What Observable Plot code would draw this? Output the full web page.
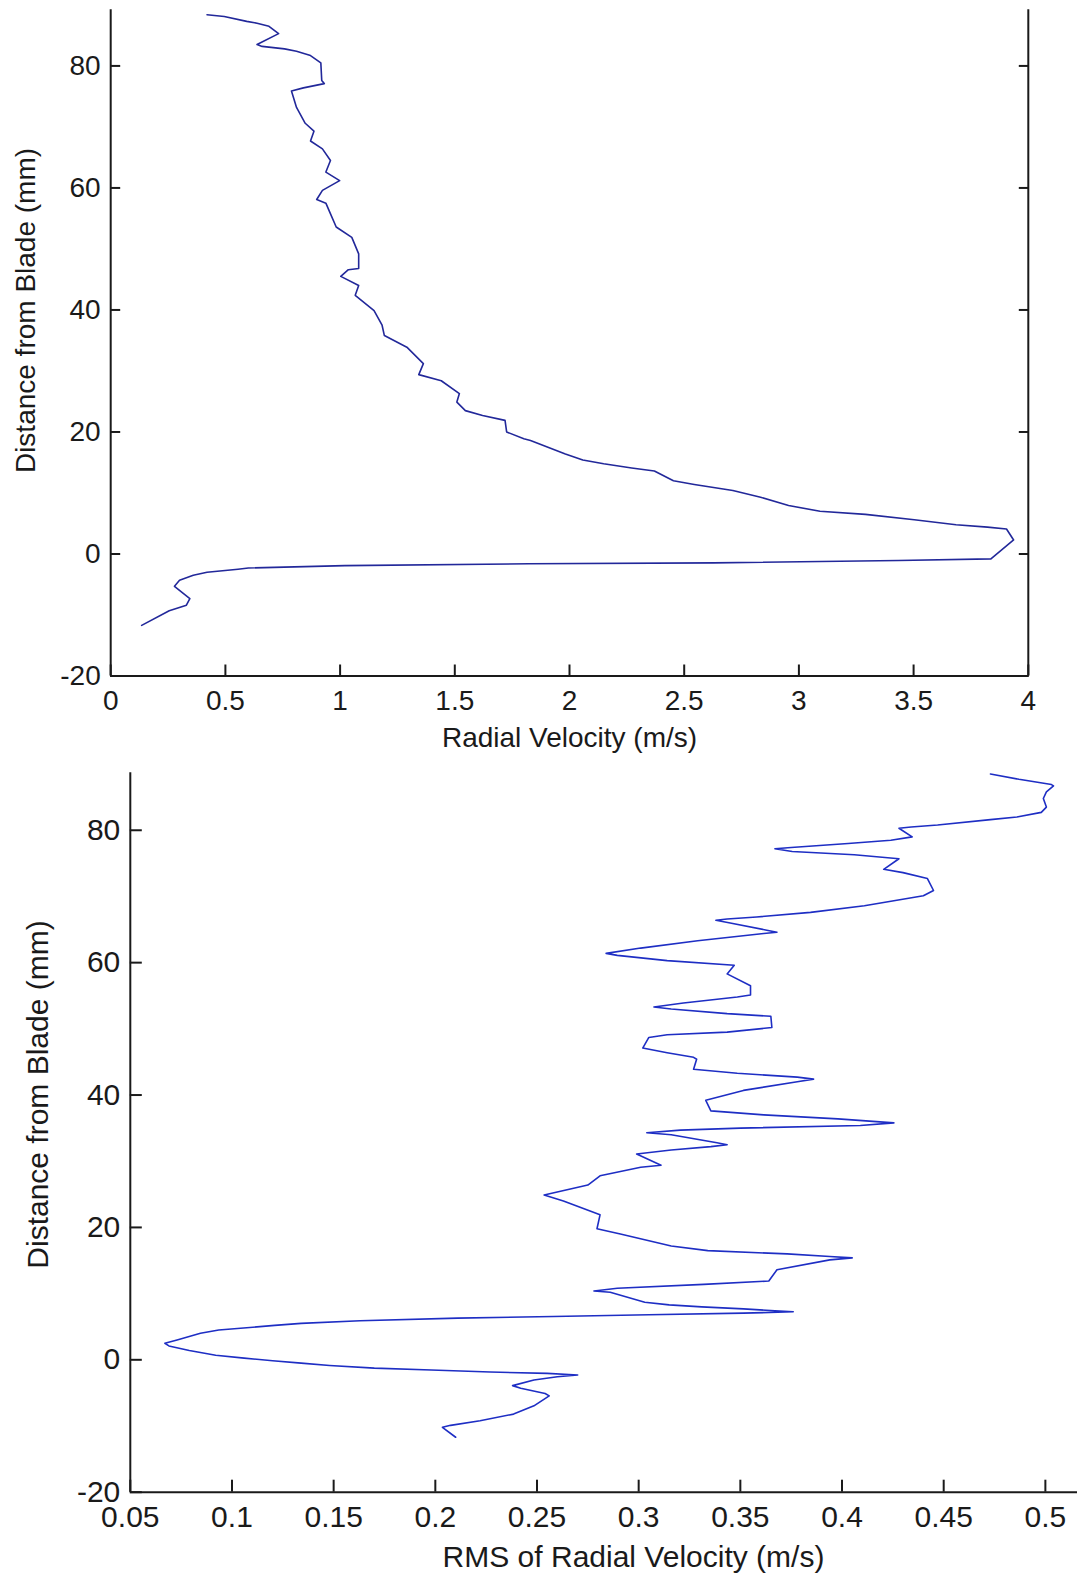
<!DOCTYPE html>
<html>
<head>
<meta charset="utf-8">
<script src="https://cdn.jsdelivr.net/npm/d3@7"></script>
<script src="https://cdn.jsdelivr.net/npm/@observablehq/plot@0.6"></script>
<style>
  html, body { margin: 0; padding: 0; background: #fff; overflow: hidden; width: 1077px; height: 1579px; }
  #topChart { position: absolute; left: 0; top: 0; }
  #bottomChart { position: absolute; left: 0; top: 760px; }
</style>
</head>
<body>
<div id="topChart"></div>
<div id="bottomChart"></div>
<script>
// ---------- data: top chart (Radial Velocity) ----------
const radialVelocity = [0.42,0.495,0.593,0.638,0.69,0.732,0.638,0.66,0.758,0.81,0.871,0.916,0.92,0.931,0.84,0.788,0.81,0.848,0.886,0.871,0.923,0.958,0.938,0.998,0.923,0.898,0.938,0.953,0.983,1.051,1.081,1.081,1.036,1.003,1.081,1.066,1.148,1.183,1.193,1.291,1.363,1.343,1.441,1.52,1.509,1.546,1.621,1.719,1.726,1.801,1.83,1.982,2.058,2.149,2.271,2.37,2.453,2.544,2.712,2.833,2.955,3.092,3.29,3.503,3.685,3.822,3.905,3.936,3.837,3.434,2.628,1.824,1.021,0.6,0.555,0.42,0.36,0.30,0.278,0.345,0.33,0.255,0.135];
const radialDistance = [88.4,88.1,87.3,87.0,86.5,85.3,83.5,83.2,82.8,82.4,81.7,80.5,77.6,77.1,76.4,75.9,73.2,70.6,69.3,67.7,66.4,64.5,62.6,61.2,59.6,58.1,57.5,56.2,53.6,51.9,49.2,46.8,46.6,45.5,44.0,42.4,39.9,37.5,35.8,33.9,31.2,29.4,28.4,26.3,24.9,23.5,22.7,21.9,20.0,18.9,18.6,16.4,15.4,14.8,14.1,13.6,12.0,11.4,10.4,9.3,7.95,7.0,6.5,5.6,4.8,4.4,4.1,2.3,-0.8,-1.07,-1.45,-1.6,-1.9,-2.3,-2.5,-3.0,-3.5,-4.3,-5.3,-7.3,-8.4,-9.3,-11.7];

// ---------- data: bottom chart (RMS of Radial Velocity) ----------
const rmsVelocity = [0.473,0.487,0.503,0.504,0.5005,0.499,0.5005,0.498,0.486,0.473,0.447,0.434,0.428,0.4345,0.424,0.403,0.375,0.367,0.3755,0.406,0.428,0.4205,0.430,0.442,0.445,0.440,0.411,0.3845,0.358,0.3435,0.338,0.345,0.363,0.368,0.3615,0.329,0.301,0.284,0.2895,0.314,0.347,0.3435,0.355,0.355,0.3485,0.322,0.3075,0.316,0.3435,0.365,0.3655,0.3435,0.314,0.305,0.302,0.314,0.327,0.3285,0.327,0.3485,0.378,0.386,0.378,0.3515,0.333,0.3355,0.3615,0.398,0.4255,0.409,0.350,0.3205,0.304,0.316,0.3385,0.3435,0.3355,0.316,0.299,0.311,0.301,0.281,0.275,0.2535,0.263,0.281,0.2795,0.291,0.316,0.334,0.373,0.394,0.405,0.394,0.368,0.364,0.332,0.2895,0.278,0.286,0.303,0.315,0.331,0.3515,0.367,0.376,0.3515,0.305,0.258,0.211,0.163,0.134,0.121,0.0935,0.0845,0.073,0.067,0.069,0.079,0.092,0.106,0.120,0.134,0.148,0.170,0.198,0.227,0.255,0.270,0.260,0.2485,0.238,0.242,0.254,0.256,0.2485,0.2385,0.222,0.2075,0.2035,0.210];
const rmsDistance = [88.5,87.7,86.9,86.7,85.8,84.8,83.5,82.7,82.0,81.6,80.8,80.5,80.3,79.0,78.5,78.0,77.4,77.2,76.8,76.3,75.7,74.1,73.6,72.7,70.9,70.1,68.6,67.6,66.9,66.6,66.4,66.0,64.9,64.6,64.4,63.3,62.2,61.4,61.1,60.3,59.6,58.3,56.5,55.1,54.8,53.9,53.3,53.0,52.3,51.9,50.2,49.5,49.1,48.7,47.1,46.4,45.7,45.4,43.9,43.3,42.7,42.4,42.0,40.7,39.2,37.6,37.0,36.4,35.8,35.4,35.0,34.7,34.3,34.0,32.8,32.5,32.2,31.7,31.1,29.4,29.1,27.8,26.4,24.9,24.0,21.9,19.8,19.0,17.2,16.5,16.0,15.6,15.4,15.1,13.6,11.9,11.4,10.8,10.4,10.2,8.7,8.3,8.0,7.7,7.4,7.25,7.05,6.8,6.55,6.3,5.9,5.5,5.2,4.5,4.0,3.0,2.5,2.1,1.4,0.7,0.25,-0.15,-0.5,-0.85,-1.25,-1.55,-1.85,-2.05,-2.3,-2.55,-3.05,-3.9,-4.3,-5.1,-5.45,-6.95,-8.2,-9.2,-9.9,-10.2,-11.7];

// ---------- ticks & labels ----------
const topXTicks = [0, 0.5, 1, 1.5, 2, 2.5, 3, 3.5, 4];
const bottomXTicks = [0.05, 0.1, 0.15, 0.2, 0.25, 0.3, 0.35, 0.4, 0.45, 0.5];
const yTicks = [-20, 0, 20, 40, 60, 80];
const yLabel = "Distance from Blade (mm)";
const topXLabel = "Radial Velocity (m/s)";
const bottomXLabel = "RMS of Radial Velocity (m/s)";

const FONT = '"Liberation Sans", Arial, Helvetica, sans-serif';
const AXIS = "#1a1a1a";
const fmt = d => String(d);

const topData = radialVelocity.map((v, i) => ({v, d: radialDistance[i]}));
const bottomData = rmsVelocity.map((v, i) => ({v, d: rmsDistance[i]}));

const topPlot = Plot.plot({
  width: 1077, height: 760,
  marginLeft: 110.2, marginRight: 49.2, marginTop: 9.3, marginBottom: 84.5,
  x: {domain: [0, 4]},
  y: {domain: [-20, 89.2]},
  style: {fontFamily: FONT, fontSize: "28px", color: AXIS, background: "white", overflow: "visible"},
  marks: [
    Plot.ruleX([0, 4], {stroke: AXIS, strokeWidth: 2}),
    Plot.ruleY([-20], {stroke: AXIS, strokeWidth: 2}),
    Plot.axisX({ticks: topXTicks, tickFormat: fmt, tickSize: -11, tickPadding: 25, fontSize: 28, label: null, strokeWidth: 2}),
    Plot.axisY({ticks: yTicks, tickFormat: fmt, tickSize: -10, tickPadding: 20, fontSize: 28, label: null, strokeWidth: 2}),
    Plot.axisY({anchor: "right", ticks: yTicks, tickFormat: () => "", tickSize: -10, tickPadding: 0, label: null, strokeWidth: 2}),
    Plot.line(topData, {x: "v", y: "d", stroke: "#22289a", strokeWidth: 1.6}),
    Plot.text([topXLabel], {text: d => d, frameAnchor: "bottom", lineAnchor: "top", textAnchor: "middle", dy: 51.5, fontSize: 28, fill: AXIS}),
    Plot.text([yLabel], {text: d => d, frameAnchor: "left", lineAnchor: "top", textAnchor: "middle", rotate: -90, dx: -95.2, dy: -32.4, fontSize: 28, fill: AXIS})
  ]
});
document.getElementById("topChart").appendChild(topPlot);

const bottomPlot = Plot.plot({
  width: 1077, height: 819,
  marginLeft: 129.8, marginRight: 0, marginTop: 12.3, marginBottom: 87.3,
  x: {domain: [0.05, 0.5158]},
  y: {domain: [-20, 88.68]},
  style: {fontFamily: FONT, fontSize: "30px", color: AXIS, background: "white", overflow: "visible"},
  marks: [
    Plot.ruleX([0.05], {stroke: AXIS, strokeWidth: 2}),
    Plot.ruleY([-20], {stroke: AXIS, strokeWidth: 2}),
    Plot.axisX({ticks: bottomXTicks, tickFormat: fmt, tickSize: -12, tickPadding: 25.3, fontSize: 30, label: null, strokeWidth: 2}),
    Plot.axisY({ticks: yTicks, tickFormat: fmt, tickSize: -12, tickPadding: 22, fontSize: 30, label: null, strokeWidth: 2}),
    Plot.line(bottomData, {x: "v", y: "d", stroke: "#1e2ec4", strokeWidth: 1.6}),
    Plot.text([bottomXLabel], {text: d => d, frameAnchor: "bottom", lineAnchor: "top", textAnchor: "middle", dx: 29.6, dy: 53.3, fontSize: 30, fill: AXIS}),
    Plot.text([yLabel], {text: d => d, frameAnchor: "left", lineAnchor: "top", textAnchor: "middle", rotate: -90, dx: -103.8, dy: -38, fontSize: 30, fill: AXIS})
  ]
});
document.getElementById("bottomChart").appendChild(bottomPlot);
</script>
</body>
</html>
